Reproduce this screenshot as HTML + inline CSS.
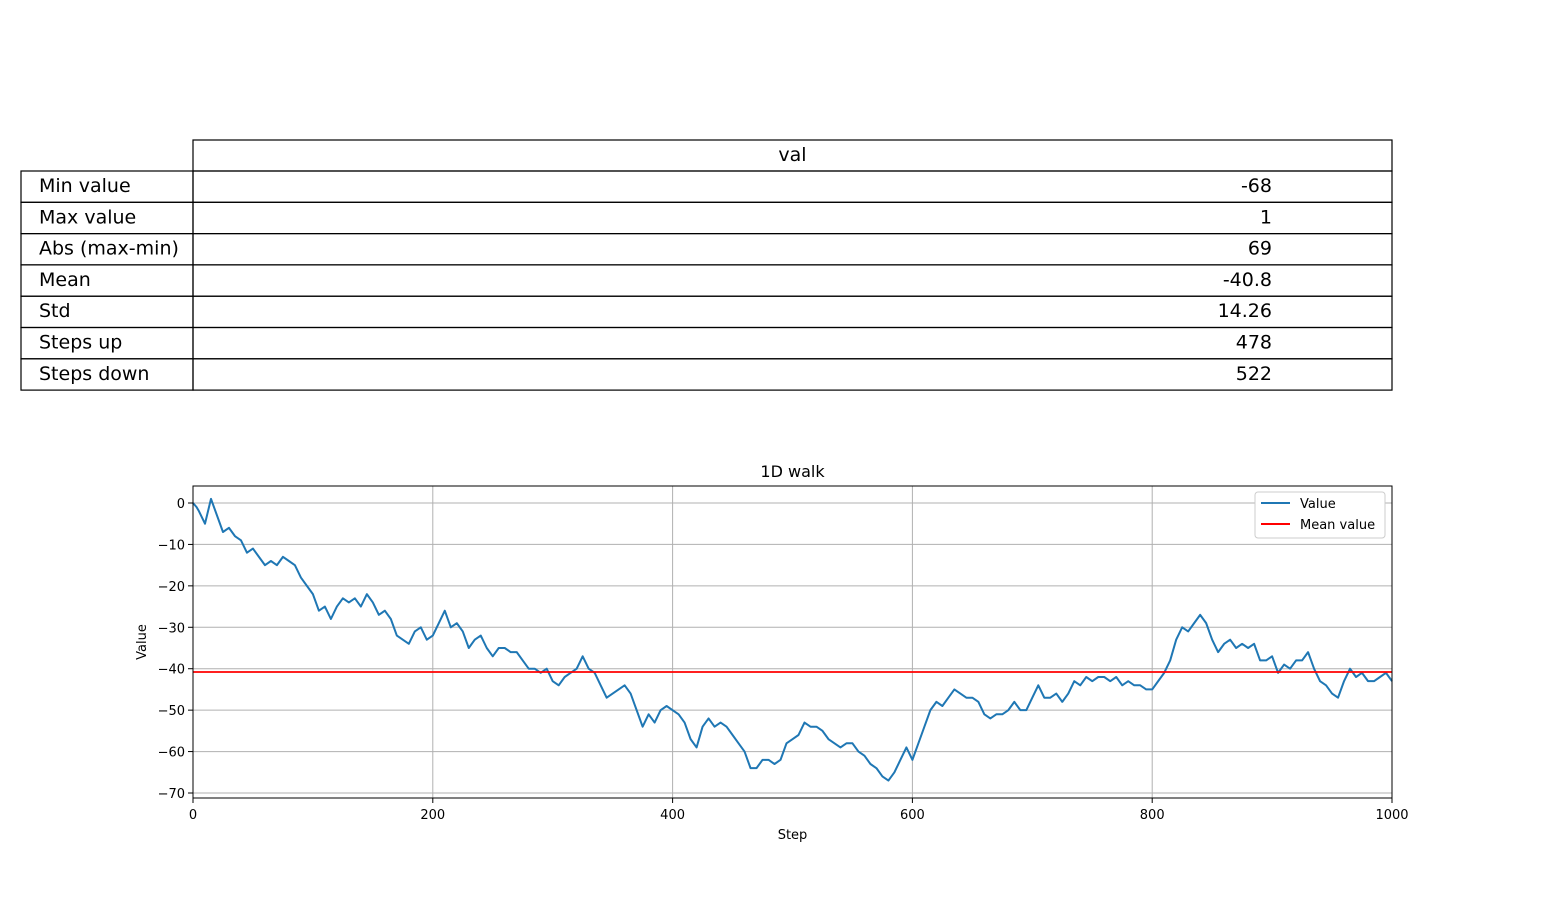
<!DOCTYPE html>
<html><head><meta charset="utf-8"><style>
body{margin:0;background:#fff;font-family:"Liberation Sans","DejaVu Sans",sans-serif}
</style></head><body>
<svg width="1547" height="898" viewBox="0 0 1547 898" xmlns="http://www.w3.org/2000/svg" font-family="DejaVu Sans, Liberation Sans, sans-serif">
<rect width="1547" height="898" fill="#fff"/>
<g id="table"></g>
<g id="chart"></g>
</svg>
<script>
const rowLabels=["Min value","Max value","Abs (max-min)","Mean","Std","Steps up","Steps down"];
const rowValues=["-68","1","69","-40.8","14.26","478","522"];
const steps=[0,3,5,10,15,25,30,35,40,45,50,55,60,65,70,75,80,85,90,95,100,105,110,115,120,125,130,135,140,145,150,155,160,165,170,175,180,185,190,195,200,205,210,215,220,225,230,235,240,245,250,255,260,265,270,275,280,285,290,295,300,305,310,315,320,325,330,335,340,345,350,355,360,365,370,375,380,385,390,395,400,405,410,415,420,425,430,435,440,445,450,455,460,465,470,475,480,485,490,495,500,505,510,515,520,525,530,535,540,545,550,555,560,565,570,575,580,585,590,595,600,605,610,615,620,625,630,635,640,645,650,655,660,665,670,675,680,685,690,695,700,705,710,715,720,725,730,735,740,745,750,755,760,765,770,775,780,785,790,795,800,805,810,815,820,825,830,835,840,845,850,855,860,865,870,875,880,885,890,895,900,905,910,915,920,925,930,935,940,945,950,955,960,965,970,975,980,985,990,995,1000];
const values=[0,-1,-2,-5,1,-7,-6,-8,-9,-12,-11,-13,-15,-14,-15,-13,-14,-15,-18,-20,-22,-26,-25,-28,-25,-23,-24,-23,-25,-22,-24,-27,-26,-28,-32,-33,-34,-31,-30,-33,-32,-29,-26,-30,-29,-31,-35,-33,-32,-35,-37,-35,-35,-36,-36,-38,-40,-40,-41,-40,-43,-44,-42,-41,-40,-37,-40,-41,-44,-47,-46,-45,-44,-46,-50,-54,-51,-53,-50,-49,-50,-51,-53,-57,-59,-54,-52,-54,-53,-54,-56,-58,-60,-64,-64,-62,-62,-63,-62,-58,-57,-56,-53,-54,-54,-55,-57,-58,-59,-58,-58,-60,-61,-63,-64,-66,-67,-65,-62,-59,-62,-58,-54,-50,-48,-49,-47,-45,-46,-47,-47,-48,-51,-52,-51,-51,-50,-48,-50,-50,-47,-44,-47,-47,-46,-48,-46,-43,-44,-42,-43,-42,-42,-43,-42,-44,-43,-44,-44,-45,-45,-43,-41,-38,-33,-30,-31,-29,-27,-29,-33,-36,-34,-33,-35,-34,-35,-34,-38,-38,-37,-41,-39,-40,-38,-38,-36,-40,-43,-44,-46,-47,-43,-40,-42,-41,-43,-43,-42,-41,-43];
const meanValue=-40.8;
const xTicks=[0,200,400,600,800,1000];
const yTicks=[0,-10,-20,-30,-40,-50,-60,-70];
const NS="http://www.w3.org/2000/svg";
function mk(p,t,a,txt){const e=document.createElementNS(NS,t);for(const k in a)e.setAttribute(k,a[k]);if(txt!==undefined)e.textContent=txt;p.appendChild(e);return e;}
const tb=document.getElementById('table');
const L=21,M=193,R=1392,T=140,H0=31,RH=31.3;
let hc=mk(tb,'rect',{x:M,y:T,width:R-M,height:H0,fill:'none',stroke:'#000','stroke-width':1.2});

let ht=mk(tb,'text',{x:(M+R)/2,y:T+21,'font-size':19,'text-anchor':'middle'},'val');

rowLabels.forEach((lab,i)=>{const y=T+H0+i*RH;
 let a=mk(tb,'rect',{x:L,y:y,width:M-L,height:RH,fill:'none',stroke:'#000','stroke-width':1.2});
 
 let b=mk(tb,'rect',{x:M,y:y,width:R-M,height:RH,fill:'none',stroke:'#000','stroke-width':1.2});
 
 let t1=mk(tb,'text',{x:39,y:y+21,'font-size':19},lab);
 
 let t2=mk(tb,'text',{x:1272,y:y+21,'font-size':19,'text-anchor':'end'},rowValues[i]);
 
});
const g=document.getElementById('chart');
const X0=193,X1=1392,Y0=486,Y1=798;
const sx=v=>X0+(v-0)/(1000-0)*(X1-X0);
const sy=v=>503+(0-v)*(793-503)/70;
xTicks.forEach(t=>{let l=mk(g,'line',{x1:sx(t),x2:sx(t),y1:Y0,y2:Y1,stroke:'#b0b0b0','stroke-width':1});
 
 mk(g,'line',{x1:sx(t),x2:sx(t),y1:Y1,y2:Y1+5,stroke:'#000'});
 let tx=mk(g,'text',{x:sx(t),y:Y1+21,'font-size':13,'text-anchor':'middle'},String(t));
 });
yTicks.forEach(t=>{let l=mk(g,'line',{x1:X0,x2:X1,y1:sy(t),y2:sy(t),stroke:'#b0b0b0','stroke-width':1});
 
 mk(g,'line',{x1:X0-5,x2:X0,y1:sy(t),y2:sy(t),stroke:'#000'});
 let tx=mk(g,'text',{x:X0-8,y:sy(t)+5,'font-size':13,'text-anchor':'end'},String(t).replace('-','\u2212'));
 });
let pl=mk(g,'polyline',{points:steps.map((s,i)=>sx(s)+','+sy(values[i])).join(' '),fill:'none',stroke:'#1f77b4','stroke-width':2,'stroke-linejoin':'round'});

let ml=mk(g,'line',{x1:X0,x2:X1,y1:sy(meanValue),y2:sy(meanValue),stroke:'#ff0000','stroke-width':1.8});

let fr=mk(g,'rect',{x:X0,y:Y0,width:X1-X0,height:Y1-Y0,fill:'none',stroke:'#000','stroke-width':1});

let ti=mk(g,'text',{x:(X0+X1)/2,y:477,'font-size':16,'text-anchor':'middle'},'1D walk');

let xl=mk(g,'text',{x:(X0+X1)/2,y:839,'font-size':13,'text-anchor':'middle'},'Step');

let yl=mk(g,'text',{x:146,y:642,'font-size':13,'text-anchor':'middle',transform:'rotate(-90 146 642)'},'Value');

let lg=mk(g,'rect',{x:1255,y:492,width:130,height:46,fill:'#fff',stroke:'#ccc',rx:3});

mk(g,'line',{x1:1261,x2:1290,y1:503,y2:503,stroke:'#1f77b4','stroke-width':2});
let le1=mk(g,'text',{x:1300,y:508,'font-size':13},'Value');

mk(g,'line',{x1:1261,x2:1290,y1:524,y2:524,stroke:'#ff0000','stroke-width':2});
let le2=mk(g,'text',{x:1300,y:529,'font-size':13},'Mean value');

</script>
</body></html>
